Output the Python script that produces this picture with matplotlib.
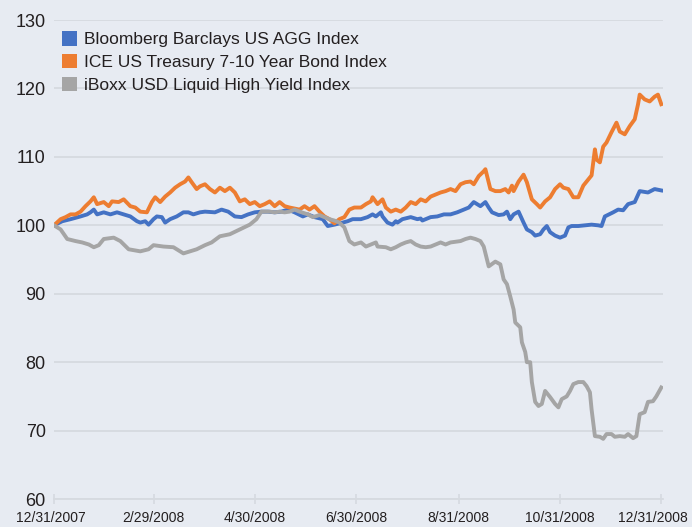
import numpy as np
import matplotlib
matplotlib.use("Agg")
import matplotlib.pyplot as plt
from matplotlib.patches import Patch
from matplotlib.transforms import ScaledTranslation

plt.rcParams['font.family'] = ['Liberation Sans Narrow', 'Liberation Sans', 'DejaVu Sans']

start = np.datetime64('2007-12-31')

# days since 12/31/2007 and index levels
agg_days = [0, 5, 10, 16, 20, 22, 24, 26, 30, 34, 38, 42, 46, 50, 52, 55, 57, 60, 62, 65,
            67, 70, 74, 78, 81, 84, 88, 91, 97, 101, 105, 109, 113, 117, 121, 125, 129, 133,
            137, 141, 145, 150, 153, 157, 162, 165, 169, 174, 177, 180, 185, 189, 192, 194,
            197, 198, 201, 204, 206, 207, 210, 215, 219, 221, 222, 227, 231, 235, 239, 243,
            247, 250, 253, 255, 257, 260, 262, 264, 268, 271, 273, 275, 277, 280, 283, 285,
            288, 290, 293, 295, 297, 299, 302, 305, 308, 310, 312, 316, 320, 324, 328, 330,
            332, 337, 340, 343, 346, 350, 353, 358, 362, 366]
agg_vals = [100.0, 100.6, 100.9, 101.3, 101.6, 101.9, 102.3, 101.6, 101.9, 101.6, 101.9,
            101.6, 101.3, 100.6, 100.4, 100.6, 100.1, 100.9, 101.3, 101.2, 100.4, 100.9,
            101.3, 101.9, 101.9, 101.6, 101.9, 102.0, 101.9, 102.3, 102.0, 101.3, 101.2,
            101.6, 101.9, 102.0, 102.0, 101.9, 102.0, 102.3, 101.9, 101.3, 101.6, 101.2,
            100.9, 99.9, 100.1, 100.4, 100.6, 100.9, 100.9, 101.2, 101.6, 101.3, 101.9,
            101.3, 100.4, 100.1, 100.6, 100.4, 100.9, 101.2, 100.9, 101.0, 100.7, 101.2,
            101.3, 101.6, 101.6, 101.9, 102.3, 102.6, 103.4, 103.1, 102.8, 103.4, 102.6,
            101.9, 101.5, 101.6, 102.0, 100.9, 101.6, 102.0, 100.4, 99.4, 99.0, 98.5, 98.7,
            99.4, 99.9, 99.0, 98.5, 98.2, 98.5, 99.7, 99.9, 99.9, 100.0, 100.1, 100.0, 99.9,
            101.3, 101.9, 102.3, 102.2, 103.1, 103.4, 105.0, 104.8, 105.3, 105.1]

ice_days = [0, 4, 7, 10, 13, 16, 19, 22, 24, 26, 30, 33, 35, 39, 42, 46, 49, 52, 56, 59,
            61, 64, 67, 70, 73, 76, 79, 81, 83, 86, 88, 91, 94, 97, 100, 103, 106, 109, 112,
            115, 118, 121, 124, 127, 130, 133, 136, 139, 142, 148, 151, 154, 157, 160, 163,
            166, 169, 172, 175, 178, 181, 185, 188, 191, 192, 195, 198, 200, 203, 206, 209,
            212, 215, 218, 221, 224, 227, 230, 233, 236, 239, 242, 245, 248, 251, 253, 256,
            259, 260, 263, 266, 269, 272, 274, 276, 277, 280, 283, 285, 288, 291, 293, 296,
            299, 302, 305, 307, 310, 313, 316, 319, 322, 324, 326, 327, 329, 331, 333, 336,
            339, 341, 344, 347, 350, 352, 353, 356, 359, 362, 364, 366]
ice_vals = [100.0, 100.9, 101.2, 101.6, 101.6, 102.0, 102.8, 103.5, 104.1, 103.1, 103.4,
            102.8, 103.5, 103.4, 103.8, 102.8, 102.6, 102.0, 101.9, 103.4, 104.1, 103.4,
            104.2, 104.8, 105.5, 106.0, 106.4, 107.0, 106.3, 105.3, 105.7, 106.0, 105.3,
            104.8, 105.5, 105.0, 105.5, 104.8, 103.5, 103.8, 103.1, 103.4, 102.8, 103.1,
            103.5, 102.8, 103.4, 102.8, 102.6, 102.3, 102.8, 102.3, 102.8, 102.0, 101.3,
            100.9, 100.3, 100.9, 101.2, 102.3, 102.6, 102.6, 103.1, 103.5, 104.1, 103.1,
            103.8, 102.6, 102.0, 102.3, 102.0, 102.6, 103.4, 103.1, 103.8, 103.5, 104.2,
            104.5, 104.8, 105.0, 105.3, 105.0, 106.0, 106.3, 106.4, 106.0, 107.2, 107.9,
            108.2, 105.3, 105.0, 105.0, 105.3, 104.8, 105.8, 105.0, 106.4, 107.4, 106.3,
            103.8, 103.1, 102.6, 103.5, 104.1, 105.3, 106.0, 105.5, 105.3, 104.1, 104.1,
            105.8, 106.7, 107.3, 111.1, 109.6, 109.2, 111.5, 112.1, 113.6, 115.0, 113.7,
            113.3, 114.5, 115.5, 117.7, 119.1, 118.4, 118.1, 118.8, 119.1, 117.7]

hy_days = [0, 4, 8, 13, 17, 21, 24, 27, 30, 36, 40, 45, 52, 57, 60, 66, 72, 78, 82, 86,
           91, 95, 100, 106, 112, 118, 122, 125, 130, 133, 136, 139, 142, 145, 148, 153,
           156, 160, 163, 166, 169, 172, 175, 178, 181, 185, 188, 191, 194, 195, 200, 203,
           206, 209, 212, 215, 218, 221, 224, 227, 230, 233, 236, 239, 245, 248, 251, 254,
           257, 259, 262, 266, 269, 271, 273, 275, 277, 278, 281, 282, 284, 285, 287, 288,
           290, 292, 294, 296, 299, 302, 304, 306, 309, 311, 313, 316, 319, 321, 323, 324,
           326, 329, 331, 333, 336, 338, 341, 344, 346, 349, 351, 353, 356, 358, 361, 363,
           366]
hy_vals = [100.0, 99.4, 98.0, 97.7, 97.5, 97.2, 96.8, 97.1, 98.0, 98.2, 97.7, 96.5, 96.2,
           96.5, 97.1, 96.9, 96.8, 95.9, 96.2, 96.5, 97.1, 97.5, 98.4, 98.7, 99.4, 100.1,
           100.9, 102.0, 102.0, 101.9, 102.0, 101.9, 102.0, 102.3, 102.0, 101.6, 101.2,
           101.5, 101.2, 100.9, 100.7, 100.4, 99.7, 97.7, 97.2, 97.5, 96.9, 97.2, 97.5,
           96.9, 96.8, 96.5, 96.8, 97.2, 97.5, 97.7, 97.2, 96.9, 96.8, 96.9, 97.2, 97.5,
           97.2, 97.5, 97.7, 98.0, 98.2, 98.0, 97.7, 96.9, 94.0, 94.7, 94.3, 92.1, 91.4,
           89.6, 87.7, 85.8, 85.1, 82.9, 81.5, 80.0, 80.0, 77.1, 74.2, 73.6, 73.9, 75.8,
           74.9, 73.9, 73.4, 74.6, 75.0, 75.8, 76.8, 77.1, 77.1, 76.5, 75.6, 73.1, 69.2,
           69.1, 68.8, 69.5, 69.5, 69.1, 69.2, 69.1, 69.5, 68.9, 69.2, 72.4, 72.7, 74.2,
           74.3, 75.0, 76.3]

series_names = ['Bloomberg Barclays US AGG Index',
                'ICE US Treasury 7-10 Year Bond Index',
                'iBoxx USD Liquid High Yield Index']
colors = ['#4472c4', '#ed7d31', '#a5a5a5']

tick_dates = ['2007-12-31', '2008-02-29', '2008-04-30', '2008-06-30',
              '2008-08-31', '2008-10-31', '2008-12-31']
tick_labels = ['12/31/2007', '2/29/2008', '4/30/2008', '6/30/2008',
               '8/31/2008', '10/31/2008', '12/31/2008']
y_ticks = [60, 70, 80, 90, 100, 110, 120, 130]

bg = '#e7ebf2'
grid_c = '#d6dae0'
txt_c = '#231f20'

fig = plt.figure(figsize=(6.92, 5.27), dpi=100, facecolor=bg)
ax = fig.add_axes([0.078, 0.053, 0.880, 0.909], facecolor=bg)

for days, vals, c in zip([agg_days, ice_days, hy_days],
                         [agg_vals, ice_vals, hy_vals], colors):
    x = start + np.array(days).astype('timedelta64[D]')
    ax.plot(x, vals, color=c, lw=2.8, solid_joinstyle='round', zorder=3)

ax.set_ylim(60, 130)
ax.set_xlim(start, start + np.timedelta64(367, 'D'))
ax.set_yticks(y_ticks)
ax.set_yticklabels([str(v) for v in y_ticks], fontsize=13, color=txt_c)
ax.set_xticks([np.datetime64(d) for d in tick_dates])
ax.set_xticklabels(tick_labels, fontsize=10, color=txt_c)
ax.yaxis.grid(True, color=grid_c, lw=1.3, zorder=0)
ax.tick_params(axis='y', length=0, pad=6)
ax.tick_params(axis='x', direction='inout', length=7, width=1.2, color=grid_c, pad=5)
for s in ['top', 'right', 'left']:
    ax.spines[s].set_visible(False)
ax.spines['bottom'].set_color(grid_c)
ax.spines['bottom'].set_linewidth(1.3)

# nudge the end labels inward like the original
xlabels = ax.get_xticklabels()
xlabels[0].set_transform(xlabels[0].get_transform() + ScaledTranslation(-3 / 100, 0, fig.dpi_scale_trans))
xlabels[-1].set_transform(xlabels[-1].get_transform() + ScaledTranslation(-8 / 100, 0, fig.dpi_scale_trans))

handles = [Patch(facecolor=c, edgecolor='none') for c in colors]
ax.legend(handles, series_names, loc='upper left', bbox_to_anchor=(0.079, 0.954),
          bbox_transform=fig.transFigure, frameon=False, fontsize=12.5,
          handlelength=0.9, handleheight=0.9, handletextpad=0.4, labelspacing=0.38,
          borderaxespad=0, labelcolor=txt_c)

fig.savefig('out.png', dpi=100, facecolor=bg)
